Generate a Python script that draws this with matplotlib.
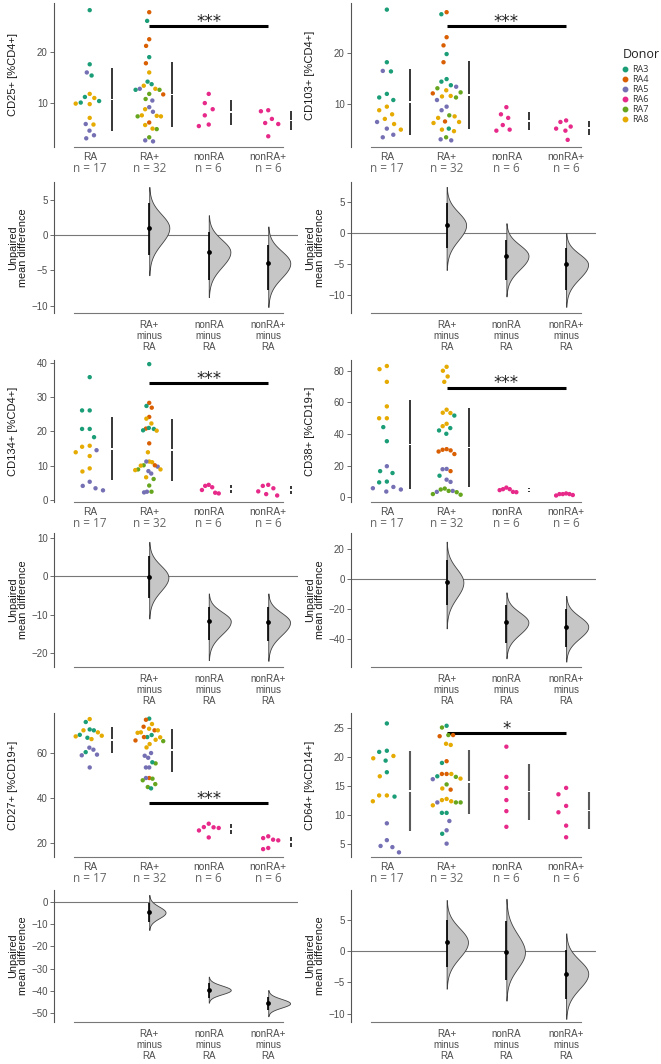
import numpy as np
import matplotlib
matplotlib.use("Agg")
import matplotlib.pyplot as plt
from matplotlib.lines import Line2D

plt.rcParams['font.family'] = ['Liberation Sans', 'DejaVu Sans']

W, H = 661, 1064

donor_colors = {3: '#1b9e77', 4: '#d95f02', 5: '#7570b3', 6: '#e7298a', 7: '#66a61e', 8: '#e6ab02'}
donor_names = ['RA3', 'RA4', 'RA5', 'RA6', 'RA7', 'RA8']

groups = ['RA', 'RA+', 'nonRA', 'nonRA+']
contrasts = ['RA+\nminus\nRA', 'nonRA\nminus\nRA', 'nonRA+\nminus\nRA']

# ---- CD25+ [%CD4+]
cd25_ra = [28.2, 17.6, 16.0, 15.4, 11.8, 11.2, 11.0, 10.4, 10.1, 9.9, 9.8, 7.1, 5.8, 5.9, 4.6, 3.7, 3.1]
cd25_ra_don = [3, 3, 5, 3, 8, 3, 8, 3, 3, 8, 8, 8, 8, 5, 5, 5, 5]
cd25_rap = [27.8, 26.1, 22.5, 21.2, 19.0, 17.8, 16.0, 14.2, 13.7, 13.4, 12.6, 12.8, 12.8, 12.6, 11.8, 11.7,
            10.8, 10.5, 9.2, 8.8, 8.3, 7.5, 7.4, 7.4, 7.6, 6.2, 5.7, 4.9, 5.0, 3.3, 2.7, 2.5]
cd25_rap_don = [4, 3, 4, 4, 3, 4, 8, 3, 3, 8, 7, 8, 5, 3, 7, 4, 7, 5, 5, 8, 5, 8, 7, 8, 8, 4, 8, 7, 8, 7, 5, 5]
cd25_nonra = [11.8, 10.0, 8.8, 7.6, 5.8, 5.5]
cd25_nonrap = [8.6, 8.4, 6.9, 5.9, 6.1, 3.5]
cd25_eff = [1.0, -2.4, -4.0]
cd25_ci = [(-2.8, 4.5), (-6.4, 0.4), (-7.8, -1.4)]
cd25_tail = [(-5.7, 6.8), (-8.8, 2.8), (-10.2, 1.2)]

# ---- CD103+ [%CD4+]
cd103_ra = [28.5, 18.2, 16.4, 16.5, 12.0, 11.3, 10.8, 9.5, 8.8, 8.0, 7.1, 6.5, 6.1, 5.2, 5.0, 4.0, 3.5]
cd103_ra_don = [3, 3, 3, 5, 3, 3, 3, 8, 8, 8, 8, 5, 8, 5, 8, 5, 5]
cd103_rap = [28.0, 27.6, 23.1, 21.5, 19.8, 18.2, 14.9, 14.4, 13.7, 12.7, 13.4, 13.1, 12.3, 12.1, 11.6, 11.5,
             11.3, 10.8, 9.5, 8.8, 7.8, 7.3, 7.6, 6.6, 6.5, 6.3, 4.7, 5.2, 5.0, 3.5, 3.1, 2.9]
cd103_rap_don = [4, 3, 4, 4, 3, 4, 3, 3, 3, 8, 5, 7, 7, 4, 8, 8, 7, 5, 5, 5, 7, 8, 8, 4, 8, 8, 8, 3, 8, 7, 5, 5]
cd103_nonra = [9.4, 8.0, 7.3, 5.9, 5.0, 4.8]
cd103_nonrap = [6.8, 6.5, 5.6, 5.2, 4.8, 3.0]
cd103_eff = [1.3, -3.7, -5.1]
cd103_ci = [(-2.5, 4.9), (-7.7, -1.1), (-9.3, -2.5)]
cd103_tail = [(-6.0, 7.5), (-10.3, 1.6), (-12.0, 0.0)]

# ---- CD134+ [%CD4+]
cd134_ra = [35.8, 26.1, 26.1, 20.7, 20.7, 18.3, 15.5, 15.8, 14.5, 13.9, 12.8, 9.2, 8.3, 5.3, 4.1, 3.4, 2.8]
cd134_ra_don = [3, 3, 3, 3, 3, 3, 8, 8, 5, 8, 8, 8, 8, 5, 5, 5, 5]
cd134_rap = [39.6, 28.3, 27.4, 26.9, 24.2, 23.7, 22.3, 20.8, 21.0, 20.3, 20.7, 20.2, 16.5, 13.9, 11.0, 11.2,
             11.2, 9.7, 10.1, 10.0, 10.1, 8.4, 8.9, 8.7, 8.9, 7.7, 6.6, 6.1, 4.2, 2.4, 2.2, 2.4]
cd134_rap_don = [3, 4, 3, 4, 4, 8, 8, 4, 3, 3, 3, 8, 4, 8, 8, 8, 5, 5, 7, 8, 4, 5, 7, 8, 8, 5, 8, 7, 7, 5, 5, 7]
cd134_nonra = [4.4, 4.1, 3.7, 2.9, 2.1, 1.9]
cd134_nonrap = [4.4, 4.1, 3.4, 2.5, 1.7, 1.3]
cd134_eff = [-0.3, -11.7, -12.0]
cd134_ci = [(-5.6, 5.3), (-16.6, -8.0), (-16.8, -8.0)]
cd134_tail = [(-11.0, 8.9), (-21.8, -4.5), (-22.0, -4.5)]

# ---- CD38+ [%CD19+]
cd38_ra = [83.0, 81.0, 73.0, 57.5, 50.0, 50.0, 44.4, 35.5, 19.7, 16.6, 15.4, 10.0, 9.5, 6.6, 5.0, 5.8, 3.7]
cd38_ra_don = [8, 8, 8, 8, 8, 8, 3, 3, 5, 3, 3, 3, 3, 5, 5, 5, 5]
cd38_rap = [82.5, 80.0, 76.4, 73.0, 55.4, 53.3, 53.5, 51.7, 46.5, 45.0, 43.8, 42.3, 40.2, 29.0, 30.1, 29.7,
            30.5, 27.4, 16.6, 18.0, 17.8, 13.7, 11.2, 9.8, 5.6, 3.5, 4.1, 2.1, 1.7, 4.1, 3.3, 5.0]
cd38_rap_don = [8, 8, 8, 8, 8, 8, 8, 3, 8, 8, 3, 3, 3, 4, 4, 4, 4, 4, 4, 5, 5, 3, 5, 5, 7, 5, 5, 7, 7, 7, 7, 7]
cd38_nonra = [6.2, 5.2, 5.2, 4.6, 3.5, 3.3]
cd38_nonrap = [2.5, 2.1, 2.1, 2.1, 1.5, 1.2]
cd38_eff = [-2.2, -28.9, -31.8]
cd38_ci = [(-17.5, 12.5), (-42.9, -17.3), (-45.5, -20.2)]
cd38_tail = [(-32.9, 24.9), (-52.9, -8.9), (-55.1, -11.3)]

# ---- CD27+ [%CD19+]
cd27_ra = [75.1, 73.8, 69.2, 70.1, 70.1, 70.5, 67.7, 67.4, 68.1, 66.8, 66.2, 60.4, 62.4, 61.5, 59.0, 59.3, 53.6]
cd27_ra_don = [8, 3, 8, 3, 8, 3, 8, 8, 3, 3, 8, 3, 5, 5, 5, 5, 5]
cd27_rap = [75.3, 74.8, 71.7, 72.9, 70.8, 70.1, 70.1, 69.2, 69.0, 68.0, 67.1, 67.0, 65.6, 65.9, 65.3, 67.1,
            64.0, 62.5, 60.0, 58.8, 57.9, 55.4, 55.9, 53.6, 53.6, 48.9, 48.6, 48.9, 47.9, 46.2, 44.9, 44.3]
cd27_rap_don = [3, 4, 4, 8, 8, 4, 8, 8, 8, 3, 3, 8, 4, 8, 7, 4, 8, 8, 5, 5, 5, 7, 3, 5, 5, 4, 7, 5, 7, 7, 7, 3]
cd27_nonra = [28.6, 27.1, 27.0, 26.7, 25.6, 22.5]
cd27_nonrap = [23.0, 22.2, 21.5, 21.2, 17.8, 17.3]
cd27_eff = [-4.7, -39.6, -45.6]
cd27_ci = [(-8.9, -0.6), (-43.4, -36.3), (-48.6, -42.6)]
cd27_tail = [(-12.6, 3.2), (-45.3, -33.6), (-51.4, -39.6)]

# ---- CD64+ [%CD14+]
cd64_ra = [25.8, 21.1, 20.9, 19.4, 20.2, 19.8, 17.4, 16.7, 13.4, 13.4, 12.4, 13.2, 8.6, 5.7, 4.5, 4.7, 3.6]
cd64_ra_don = [3, 3, 3, 3, 8, 8, 3, 8, 8, 8, 8, 3, 5, 5, 5, 5, 5]
cd64_rap = [25.4, 25.1, 23.6, 23.8, 23.8, 22.1, 22.3, 19.0, 19.3, 16.7, 15.3, 16.3, 17.1, 16.2, 17.1, 16.6,
            17.1, 14.4, 14.6, 12.6, 12.2, 12.2, 12.2, 12.8, 12.4, 11.7, 10.4, 10.4, 9.0, 7.4, 6.8, 5.1]
cd64_rap_don = [3, 7, 4, 7, 4, 8, 8, 3, 4, 3, 7, 8, 4, 5, 4, 7, 8, 4, 8, 8, 5, 7, 7, 8, 8, 8, 3, 3, 5, 5, 3, 5]
cd64_nonra = [21.8, 16.6, 14.7, 12.6, 10.7, 8.0]
cd64_nonrap = [14.7, 13.6, 11.6, 10.5, 8.2, 6.2]
cd64_eff = [1.4, -0.2, -3.6]
cd64_ci = [(-2.5, 5.0), (-4.6, 4.7), (-7.6, 0.2)]
cd64_tail = [(-6.0, 8.1), (-7.9, 8.3), (-10.8, 2.8)]

panels = [
    dict(label='CD25+ [%CD4+]', col=0, row=0,
         vals=[cd25_ra, cd25_rap, cd25_nonra, cd25_nonrap], dons=[cd25_ra_don, cd25_rap_don],
         eff=cd25_eff, ci=cd25_ci, tail=cd25_tail, sig=(25.1, '***'),
         ylim=(1.4, 29.6), yticks=[10, 20], dylim=(-11.05, 7.5), dyticks=[-10, -5, 0, 5]),
    dict(label='CD103+ [%CD4+]', col=1, row=0,
         vals=[cd103_ra, cd103_rap, cd103_nonra, cd103_nonrap], dons=[cd103_ra_don, cd103_rap_don],
         eff=cd103_eff, ci=cd103_ci, tail=cd103_tail, sig=(25.3, '***'),
         ylim=(1.6, 29.8), yticks=[10, 20], dylim=(-13.0, 8.3), dyticks=[-10, -5, 0, 5]),
    dict(label='CD134+ [%CD4+]', col=0, row=1,
         vals=[cd134_ra, cd134_rap, cd134_nonra, cd134_nonrap], dons=[cd134_ra_don, cd134_rap_don],
         eff=cd134_eff, ci=cd134_ci, tail=cd134_tail, sig=(34.1, '***'),
         ylim=(-0.6, 40.8), yticks=[0, 10, 20, 30, 40], dylim=(-23.6, 11.2), dyticks=[-20, -10, 0, 10]),
    dict(label='CD38+ [%CD19+]', col=1, row=1,
         vals=[cd38_ra, cd38_rap, cd38_nonra, cd38_nonrap], dons=[cd38_ra_don, cd38_rap_don],
         eff=cd38_eff, ci=cd38_ci, tail=cd38_tail, sig=(69.4, '***'),
         ylim=(-2.9, 86.8), yticks=[0, 20, 40, 60, 80], dylim=(-58.7, 30.7), dyticks=[-40, -20, 0, 20]),
    dict(label='CD27+ [%CD19+]', col=0, row=2,
         vals=[cd27_ra, cd27_rap, cd27_nonra, cd27_nonrap], dons=[cd27_ra_don, cd27_rap_don],
         eff=cd27_eff, ci=cd27_ci, tail=cd27_tail, sig=(37.8, '***'),
         ylim=(13.8, 77.8), yticks=[20, 40, 60], dylim=(-54.0, 5.4), dyticks=[-50, -40, -30, -20, -10, 0]),
    dict(label='CD64+ [%CD14+]', col=1, row=2,
         vals=[cd64_ra, cd64_rap, cd64_nonra, cd64_nonrap], dons=[cd64_ra_don, cd64_rap_don],
         eff=cd64_eff, ci=cd64_ci, tail=cd64_tail, sig=(24.1, '*'),
         ylim=(2.8, 27.6), yticks=[5, 10, 15, 20, 25], dylim=(-11.3, 9.7), dyticks=[-10, -5, 0, 5],
         line_color='#5a5a5a', line_width=1.5),
]

# pixel layout
col_x = [(54, 298), (351, 596)]
swarm_y = [(3, 147), (360, 502), (713, 857)]
diff_y = [(182, 313), (533, 667), (890, 1022)]
XLIM = (-0.6, 3.5)

fig = plt.figure(figsize=(W / 100, H / 100), dpi=100)


def add_px_axes(x0, x1, y0, y1):
    return fig.add_axes([x0 / W, 1 - y1 / H, (x1 - x0) / W, (y1 - y0) / H])


def beeswarm(vals, d, max_half):
    # simple swarm in pixel units, then squeeze to max_half
    ys = np.asarray(vals, float)
    xs = np.zeros(len(ys))
    placed = []
    for i in np.argsort(-ys):
        y = ys[i]
        near = [(px, py) for px, py in placed if abs(py - y) < d]
        cands = [0.0]
        for px, py in near:
            dx = np.sqrt(d ** 2 - (py - y) ** 2)
            cands += [px + dx, px - dx]
        cands.sort(key=lambda c: (abs(c), c))
        for c in cands:
            if all((c - px) ** 2 + (y - py) ** 2 >= d ** 2 - 1e-9 for px, py in near):
                xs[i] = c
                break
        placed.append((xs[i], y))
    widest = np.abs(xs).max()
    if widest > max_half:
        xs = xs * max_half / widest
    return xs


def style_axes(ax, ylim, yticks):
    ax.set_xlim(*XLIM)
    ax.set_ylim(*ylim)
    ax.set_yticks(yticks)
    ax.set_xticks([])
    for s in ['top', 'right']:
        ax.spines[s].set_visible(False)
    ax.spines['left'].set_color('#555555')
    ax.spines['left'].set_linewidth(0.8)
    ax.spines['bottom'].set_color('#777777')
    ax.spines['bottom'].set_linewidth(0.8)
    ax.spines['bottom'].set_bounds(-0.27, 3.25)
    ax.tick_params(axis='y', direction='out', length=3, width=0.6, color='#555555',
                   labelsize=7, labelcolor='#4d4d4d', pad=1.5)
    ax.patch.set_alpha(0)


for p in panels:
    cx0, cx1 = col_x[p['col']]
    sy0, sy1 = swarm_y[p['row']]
    dy0, dy1 = diff_y[p['row']]

    # ---------- swarm axes
    ax = add_px_axes(cx0, cx1, sy0, sy1)
    style_axes(ax, p['ylim'], p['yticks'])
    ypx = (sy1 - sy0) / (p['ylim'][1] - p['ylim'][0])
    xpx = (cx1 - cx0) / (XLIM[1] - XLIM[0])
    lc = p.get('line_color', 'black')
    lw = p.get('line_width', 1.1)
    yr = p['ylim'][1] - p['ylim'][0]
    for gi, vals in enumerate(p['vals']):
        dons = p['dons'][gi] if gi < 2 else [6] * len(vals)
        v = np.asarray(vals)
        off = beeswarm(v * ypx, 10.0, 14.0 if len(v) > 10 else 10.0) / xpx
        ax.scatter(gi + off, v, s=10, c=[donor_colors[d] for d in dons],
                   edgecolors='none', zorder=3)
        m, sd = v.mean(), v.std(ddof=1)
        gap = 0.006 * yr
        xl = gi + 0.38
        ax.plot([xl, xl], [m - sd, m - gap], color=lc, lw=lw, solid_capstyle='butt')
        ax.plot([xl, xl], [m + gap, m + sd], color=lc, lw=lw, solid_capstyle='butt')
        ax.annotate(groups[gi], xy=(gi, 0), xycoords=('data', 'axes fraction'),
                    xytext=(0, -7.5), textcoords='offset points', ha='center', va='center',
                    fontsize=7.3, color='#4d4d4d')
        ax.annotate('n = %d' % len(vals), xy=(gi, 0), xycoords=('data', 'axes fraction'),
                    xytext=(0, -15.5), textcoords='offset points', ha='center', va='center',
                    fontsize=8.5, color='#666666', family='Open Sans')
    sy, stxt = p['sig']
    ax.plot([1, 3], [sy, sy], color='black', lw=2.2, solid_capstyle='butt')
    ax.annotate(stxt, xy=(2, sy), xytext=(0, -3.5), textcoords='offset points',
                ha='center', va='bottom', fontsize=12, color='#222222', family='DejaVu Sans')
    fig.text((cx0 - 41) / W, 1 - (sy0 + sy1) / 2 / H, p['label'], rotation=90,
             ha='center', va='center', fontsize=8, color='#1a1a1a')

    # ---------- contrast axes
    dax = add_px_axes(cx0, cx1, dy0, dy1)
    style_axes(dax, p['dylim'], p['dyticks'])
    dax.axhline(0, color='#777777', lw=0.8, zorder=1)
    s_up = [(t[1] - e) / 3.0 for e, t in zip(p['eff'], p['tail'])]
    s_dn = [(e - t[0]) / 3.0 for e, t in zip(p['eff'], p['tail'])]
    peaks = [2 / (np.sqrt(2 * np.pi) * (a + b)) for a, b in zip(s_up, s_dn)]
    scale = 0.37 / max(peaks)
    for ci_idx in range(3):
        xc = ci_idx + 1
        e = p['eff'][ci_idx]
        lo, hi = p['tail'][ci_idx]
        yy = np.linspace(lo, hi, 300)
        z = np.where(yy >= e, (yy - e) / s_up[ci_idx], (yy - e) / s_dn[ci_idx])
        dens = peaks[ci_idx] * np.exp(-0.5 * z ** 2) * scale
        dax.fill_betweenx(yy, xc, xc + dens, facecolor='#c6c6c6', edgecolor='#404040',
                          lw=0.6, zorder=2)
        c0, c1 = p['ci'][ci_idx]
        dax.plot([xc, xc], [c0, c1], color='black', lw=1.2, zorder=3, solid_capstyle='butt')
        dax.plot([xc], [e], 'o', color='black', ms=2.4, zorder=4)
        dax.annotate(contrasts[ci_idx], xy=(xc, 0), xycoords=('data', 'axes fraction'),
                     xytext=(0, -16.3), textcoords='offset points', ha='center', va='center',
                     fontsize=7, color='#4d4d4d', linespacing=1.12)
    fig.text((cx0 - 36) / W, 1 - (dy0 + dy1) / 2 / H, 'Unpaired\nmean difference', rotation=90,
             ha='center', va='center', fontsize=7.8, color='#1a1a1a', linespacing=1.0)

fig.text(623 / W, 1 - 55 / H, 'Donor', ha='left', va='center', fontsize=9,
         family='Open Sans', color='#222222')
handles = [Line2D([], [], marker='o', ls='', color=donor_colors[int(n[2])], ms=3.2) for n in donor_names]
leg = fig.legend(handles, donor_names, loc='upper left',
                 bbox_to_anchor=(622 / W, 1 - 65 / H), frameon=False,
                 prop={'family': 'Open Sans', 'size': 6.5},
                 handlelength=0.6, handletextpad=0.5, labelspacing=0.12,
                 borderaxespad=0, borderpad=0)
for t in leg.get_texts():
    t.set_color('#333333')

fig.savefig('out.png', dpi=100)
